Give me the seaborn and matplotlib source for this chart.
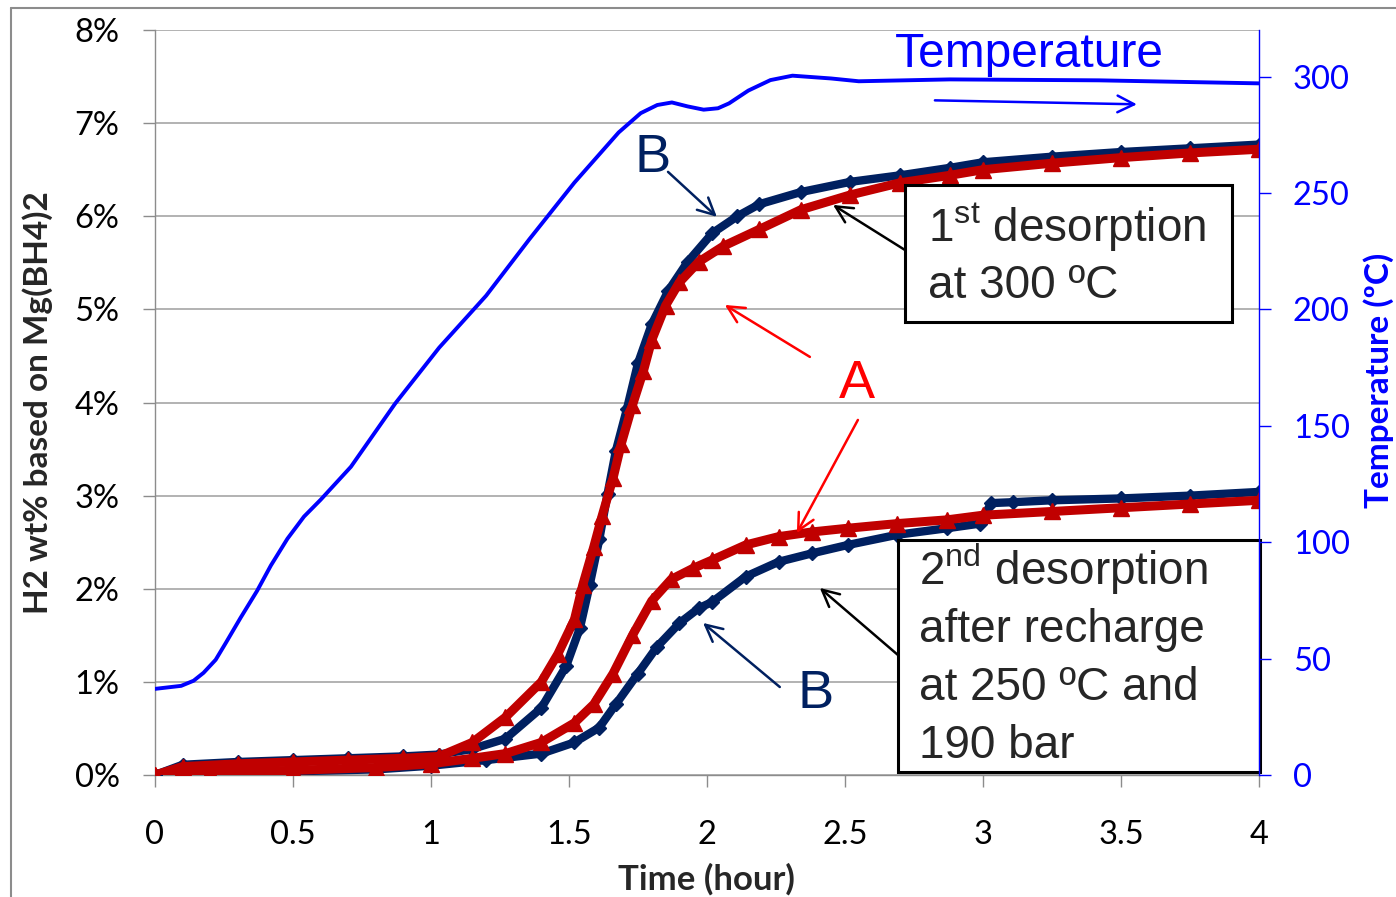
import matplotlib
matplotlib.use("Agg")
import matplotlib.pyplot as plt
import seaborn as sns
from matplotlib.lines import Line2D
from matplotlib.patches import Rectangle

# 1st desorption at 300 C, sample A (red) and sample B (navy)
t_a1 = [0.0, 0.1, 0.3, 0.5, 0.7, 0.9, 1.03, 1.15, 1.27, 1.4, 1.46, 1.52, 1.55, 1.59, 1.62, 1.66,
        1.69, 1.73, 1.77, 1.8, 1.85, 1.9, 1.97, 2.06, 2.19, 2.34, 2.52, 2.7, 2.88, 3.0, 3.25, 3.5, 3.75, 4.0]
h2_a1 = [0.0, 0.09, 0.12, 0.14, 0.16, 0.18, 0.2, 0.35, 0.62, 1.0, 1.3, 1.67, 2.04, 2.45, 2.78, 3.19,
         3.56, 3.97, 4.34, 4.67, 5.04, 5.29, 5.51, 5.68, 5.86, 6.07, 6.23, 6.36, 6.44, 6.5, 6.57, 6.63, 6.68, 6.72]
t_b1 = [0.0, 0.1, 0.3, 0.5, 0.7, 0.9, 1.03, 1.15, 1.27, 1.4, 1.49, 1.54, 1.575, 1.61, 1.64, 1.67,
        1.71, 1.75, 1.8, 1.86, 1.93, 2.02, 2.11, 2.19, 2.34, 2.52, 2.7, 2.88, 3.0, 3.25, 3.5, 3.75, 4.0]
h2_b1 = [0.0, 0.11, 0.14, 0.16, 0.18, 0.2, 0.22, 0.28, 0.39, 0.72, 1.17, 1.58, 2.04, 2.53, 3.02, 3.48,
         3.93, 4.42, 4.84, 5.2, 5.51, 5.82, 6.0, 6.13, 6.26, 6.37, 6.44, 6.52, 6.58, 6.64, 6.69, 6.73, 6.77]

# 2nd desorption after recharge
t_a2 = [0.0, 0.2, 0.5, 0.8, 1.0, 1.15, 1.27, 1.4, 1.52, 1.59, 1.66, 1.73, 1.8, 1.87, 1.95, 2.02,
        2.14, 2.26, 2.38, 2.51, 2.69, 2.87, 3.0, 3.25, 3.5, 3.75, 4.0]
h2_a2 = [0.0, 0.03, 0.05, 0.08, 0.12, 0.18, 0.23, 0.35, 0.56, 0.76, 1.09, 1.5, 1.87, 2.1, 2.22, 2.31,
         2.47, 2.56, 2.61, 2.65, 2.7, 2.74, 2.79, 2.83, 2.87, 2.91, 2.95]
t_b2 = [0.0, 0.2, 0.5, 0.8, 1.0, 1.2, 1.4, 1.52, 1.61, 1.67, 1.75, 1.82, 1.9, 1.97, 2.02, 2.14,
        2.26, 2.38, 2.51, 2.69, 2.87, 2.99, 3.03, 3.11, 3.25, 3.5, 3.75, 4.0]
h2_b2 = [0.0, 0.02, 0.04, 0.06, 0.1, 0.16, 0.23, 0.35, 0.51, 0.76, 1.09, 1.38, 1.63, 1.79, 1.86, 2.13,
         2.29, 2.38, 2.47, 2.58, 2.65, 2.7, 2.92, 2.93, 2.95, 2.97, 3.0, 3.04]

# furnace temperature (right axis)
temp_t = [0.0, 0.095, 0.14, 0.176, 0.22, 0.257, 0.31, 0.37, 0.42, 0.48, 0.54, 0.6, 0.71, 0.87, 1.03,
          1.2, 1.357, 1.52, 1.68, 1.76, 1.82, 1.873, 1.93, 1.988, 2.04, 2.08, 2.15, 2.23, 2.31, 2.45,
          2.55, 2.88, 3.42, 4.0]
temp_c = [37.0, 38.3, 40.5, 43.9, 49.5, 56.8, 67.5, 79.1, 90.0, 101.5, 111.0, 118.2, 132.4, 159.5, 183.6,
          205.9, 230.2, 254.5, 276.0, 284.3, 287.8, 288.9, 287.2, 285.8, 286.4, 288.5, 294.0, 298.5, 300.4, 299.2,
          298.0, 298.8, 298.4, 297.1]

x_ticks = [0, 0.5, 1, 1.5, 2, 2.5, 3, 3.5, 4]
x_labels = ["0", "0.5", "1", "1.5", "2", "2.5", "3", "3.5", "4"]
y_ticks = [0, 1, 2, 3, 4, 5, 6, 7, 8]
y_labels = ["0%", "1%", "2%", "3%", "4%", "5%", "6%", "7%", "8%"]
temp_ticks = [0, 50, 100, 150, 200, 250, 300]

sns.set_style("white")
plt.rcParams['font.family'] = ['Lato', 'DejaVu Sans']
plt.rcParams['mathtext.fontset'] = 'custom'
plt.rcParams['mathtext.rm'] = 'Liberation Sans'
plt.rcParams['mathtext.it'] = 'Liberation Sans:italic'
plt.rcParams['mathtext.bf'] = 'Liberation Sans:bold'

red = "#C00000"
navy = "#002060"
blue = "#0000FF"
gray = "#8C8C8C"
arial = "Liberation Sans"

fig = plt.figure(figsize=(13.96, 8.97), dpi=100)
ax = fig.add_axes([0.111, 0.136, 0.7908, 0.8305])
ax2 = ax.twinx()

# H2 curves
for t, v in [(t_b1, h2_b1), (t_b2, h2_b2)]:
    sns.lineplot(x=t, y=v, ax=ax, color=navy, lw=6, marker="D", markersize=7,
                 markeredgecolor=navy, markeredgewidth=1, zorder=3)
for t, v in [(t_a1, h2_a1), (t_a2, h2_a2)]:
    sns.lineplot(x=t, y=v, ax=ax, color=red, lw=6.5, marker="^", markersize=11,
                 markeredgecolor=red, markeredgewidth=1, zorder=4)

# temperature
sns.lineplot(x=temp_t, y=temp_c, ax=ax2, color=blue, lw=2.8)

ax.set_xlim(0, 4)
ax.set_ylim(0, 8)
ax2.set_ylim(0, 320)
ax.set_xticks(x_ticks)
ax.set_xticklabels(x_labels)
ax.set_yticks(y_ticks)
ax.set_yticklabels(y_labels)
ax2.set_yticks(temp_ticks)
ax2.set_yticklabels([str(v) for v in temp_ticks])

ax.grid(True, axis="y", color="#A6A6A6", lw=1.2)
ax.grid(False, axis="x")
ax.set_axisbelow(True)

for s in ["top", "right"]:
    ax.spines[s].set_visible(False)
for s in ["top", "left", "bottom"]:
    ax2.spines[s].set_visible(False)
ax.spines["left"].set_color(gray)
ax.spines["bottom"].set_color(gray)
ax.spines["left"].set_linewidth(1)
ax.spines["bottom"].set_linewidth(1)
ax2.spines["right"].set_color(blue)
ax2.spines["right"].set_linewidth(1)

ax.tick_params(axis="x", bottom=True, direction="out", length=8.5, width=1, color=gray,
               labelsize=23.5, pad=24, labelcolor="black")
ax.tick_params(axis="y", left=True, direction="out", length=8.5, width=1, color=gray,
               labelsize=23.5, pad=17, labelcolor="black")
ax2.tick_params(axis="y", right=True, direction="out", length=8.5, width=1, color=blue,
                labelsize=23.5, pad=16, labelcolor=blue)

ax.set_xlabel("Time (hour)", fontsize=25, fontweight="bold")
ax.xaxis.label.set_va("center")
ax.xaxis.set_label_coords(0.5, -0.14)
ax.set_ylabel("H2 wt% based on Mg(BH4)2", fontsize=24, fontweight="bold")
ax.yaxis.label.set_va("center")
ax.yaxis.set_label_coords(-0.106, 0.5)
ax2.set_ylabel("Temperature (ºC)", fontsize=24, fontweight="bold", color=blue)
ax2.yaxis.label.set_va("center")
ax2.yaxis.set_label_coords(1.108, 0.53)

# annotations
def arrow(a, start, end, color):
    a.annotate("", xy=end, xytext=start,
               arrowprops=dict(arrowstyle="->,head_length=0.6,head_width=0.3", color=color,
                               lw=1.8, mutation_scale=20, shrinkA=0, shrinkB=0), zorder=6)

ax2.text(2.681, 304, "Temperature", color=blue, fontsize=34.5, family=arial, va="baseline", ha="left")
arrow(ax2, (2.826, 289.8), (3.558, 288.1), blue)

ax.text(1.804, 6.477, "B", color=navy, fontsize=39, family=arial, ha="center", va="baseline")
arrow(ax, (1.859, 6.477), (2.036, 5.994), navy)
ax.text(2.395, 0.72, "B", color=navy, fontsize=39, family=arial, ha="center", va="baseline")
arrow(ax, (2.264, 0.945), (1.986, 1.633), navy)

ax.text(2.543, 4.049, "A", color="#FF0000", fontsize=39, family=arial, ha="center", va="baseline")
arrow(ax, (2.373, 4.49), (2.065, 5.048), "#FF0000")
arrow(ax, (2.547, 3.813), (2.326, 2.599), "#FF0000")

arrow(ax, (2.717, 5.639), (2.457, 6.122), "black")
arrow(ax, (2.692, 1.289), (2.409, 2.009), "black")

# text boxes
ax.add_patch(Rectangle((2.717, 4.866), 3.902 - 2.717, 6.337 - 4.866, facecolor="white",
                       edgecolor="black", lw=2.2, zorder=7, clip_on=False))
ax.text(2.80, 5.725, r"1$^{\mathrm{st}}$ desorption", fontsize=33, family=arial, va="baseline", zorder=8)
ax.text(2.80, 5.124, "at 300 ºC", fontsize=33, family=arial, va="baseline", zorder=8)

ax.add_patch(Rectangle((2.692, 0.032), 4.004 - 2.692, 2.524 - 0.032, facecolor="white",
                       edgecolor="black", lw=2.2, zorder=7, clip_on=False))
box2_lines = [r"2$^{\mathrm{nd}}$ desorption", "after recharge", "at 250 ºC and", "190 bar"]
box2_base = [2.041, 1.429, 0.806, 0.183]
for txt, yb in zip(box2_lines, box2_base):
    ax.text(2.768, yb, txt, fontsize=33, family=arial, va="baseline", zorder=8)

# outer frame of the original slide
fig.add_artist(Line2D([10.5 / 1396, 10.5 / 1396], [0, 1 - 8 / 897], color=gray, lw=1.5))
fig.add_artist(Line2D([10.5 / 1396, 1], [1 - 8 / 897, 1 - 8 / 897], color=gray, lw=1.5))

fig.savefig("out.png", dpi=100)
